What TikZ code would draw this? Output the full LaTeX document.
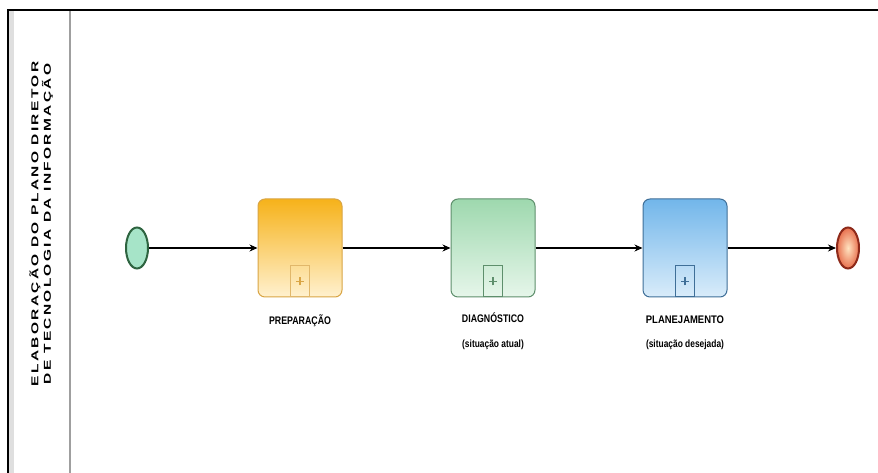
\documentclass[tikz,border=0pt]{standalone}
\usepackage{fontspec}
\setmainfont{Liberation Sans}
\usetikzlibrary{arrows.meta,shapes.geometric}
\definecolor{orTop}{HTML}{F6B21A}
\definecolor{orBot}{HTML}{FFF1CF}
\definecolor{orLine}{HTML}{D9A545}
\definecolor{grTop}{HTML}{9ED8AE}
\definecolor{grBot}{HTML}{E6F6EA}
\definecolor{grLine}{HTML}{5E8F6C}
\definecolor{blTop}{HTML}{72B6EA}
\definecolor{blBot}{HTML}{D9ECFA}
\definecolor{blLine}{HTML}{3F6F98}
\definecolor{startFill}{HTML}{A6E4C8}
\definecolor{startLine}{HTML}{2E6440}
\definecolor{endIn}{HTML}{FFE3C0}
\definecolor{endOut}{HTML}{E8704E}
\definecolor{endLine}{HTML}{8E2A1A}
\begin{document}
\begin{tikzpicture}[x=1pt,y=1pt,
  flow/.style={line width=1.4pt, -{Stealth[length=8pt,width=7pt]}},
  task/.style={rounded corners=7pt, minimum width=84pt, minimum height=98pt,
    inner sep=0pt, line width=1pt},
  submark/.style={minimum width=19pt, minimum height=31pt, inner sep=0pt,
    line width=1pt, anchor=south},
  plus/.style={line width=1.1pt},
  event/.style={ellipse, minimum width=22pt, minimum height=41pt,
    inner sep=0pt, line width=2pt},
  caps/.style={font=\bfseries\fontsize{11}{12}\selectfont, inner sep=0pt},
  small/.style={font=\bfseries\fontsize{10.5}{12}\selectfont, inner sep=0pt},
]
\useasboundingbox (0,0) rectangle (878,473);
\fill[white] (0,0) rectangle (878,473);

% pool frame and lane divider
\fill[gray!25] (9,0) rectangle (14,462);
\draw[line width=2.5pt] (8,-10) -- (8,463) -- (890,463);
\draw[gray!75, line width=1.5pt] (70,0) -- (70,462);
\node[rotate=90, inner sep=0pt] (lane) at (42,249)
  {\scalebox{1.55}[1]{\begin{tabular}{@{}c@{}}
   \bfseries\fontsize{10}{12}\selectfont\addfontfeature{LetterSpace=15}ELABORAÇÃO DO PLANO DIRETOR\\
   \bfseries\fontsize{10}{12}\selectfont\addfontfeature{LetterSpace=15}DE TECNOLOGIA DA INFORMAÇÃO
  \end{tabular}}};

% events
\node[event, draw=startLine, fill=startFill] (start) at (137,225) {};
\node[event, draw=endLine, inner color=endIn, outer color=endOut] (end) at (848,225) {};

% sub-processes
\node[task, draw=orLine, top color=orTop, bottom color=orBot] (prep) at (300,225) {};
\node[task, draw=grLine, top color=grTop, bottom color=grBot] (diag) at (493,225) {};
\node[task, draw=blLine, top color=blTop, bottom color=blBot] (plan) at (685,225) {};

% collapsed sub-process markers with their plus signs
\node[submark, draw=orLine!80] (m1) at (prep.south) {};
\node[submark, draw=grLine] (m2) at (diag.south) {};
\node[submark, draw=blLine] (m3) at (plan.south) {};
\draw[plus, orLine] ([yshift=-4pt]m1.center) -- ([yshift=4pt]m1.center)
  ([xshift=-4pt]m1.center) -- ([xshift=4pt]m1.center);
\draw[plus, grLine] ([yshift=-4pt]m2.center) -- ([yshift=4pt]m2.center)
  ([xshift=-4pt]m2.center) -- ([xshift=4pt]m2.center);
\draw[plus, blLine] ([yshift=-4pt]m3.center) -- ([yshift=4pt]m3.center)
  ([xshift=-4pt]m3.center) -- ([xshift=4pt]m3.center);

% labels
\node[caps] (l1) at (300,152) {\scalebox{0.8}[1]{PREPARAÇÃO}};
\node[caps] (l2) at (493,155) {\scalebox{0.8}[1]{DIAGNÓSTICO}};
\node[small] (l2b) at (493,128) {\scalebox{0.8}[1]{(situação atual)}};
\node[caps] (l3) at (685,153) {\scalebox{0.86}[1]{PLANEJAMENTO}};
\node[small] (l3b) at (685,128) {\scalebox{0.8}[1]{(situação desejada)}};

% sequence flows
\draw[flow] (start) -- (prep);
\draw[flow] (prep) -- (diag);
\draw[flow] (diag) -- (plan);
\draw[flow] (plan) -- (end);
\end{tikzpicture}
\end{document}
